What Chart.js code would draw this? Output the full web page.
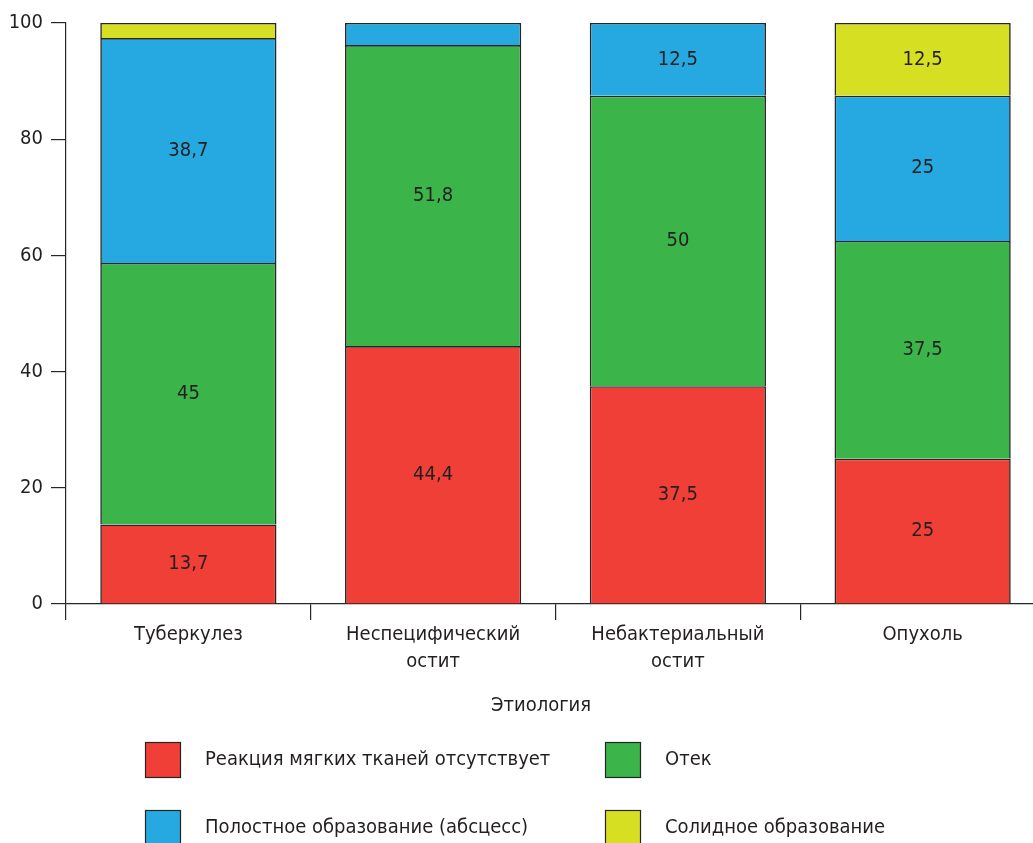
<!DOCTYPE html>
<html>
<head>
<meta charset="utf-8">
<script src="https://cdn.jsdelivr.net/npm/chart.js@4.4.1/dist/chart.umd.min.js"></script>
<style>
  body { margin: 0; background: #fff; overflow: hidden; }
  #wrap { width: 1060px; height: 843px; }
</style>
</head>
<body>
<div id="wrap"><canvas id="canvas" width="1060" height="843"></canvas></div>
<script>
var categories = [['Туберкулез'], ['Неспецифический', 'остит'], ['Небактериальный', 'остит'], ['Опухоль']];
var seriesNames = ['Реакция мягких тканей отсутствует', 'Отек', 'Полостное образование (абсцесс)', 'Солидное образование'];
var noReaction = [13.7, 44.4, 37.5, 25];
var edema = [45, 51.8, 50, 37.5];
var abscess = [38.7, 3.8, 12.5, 25];
var solid = [2.6, 0, 0, 12.5];
var yTicks = [0, 20, 40, 60, 80, 100];
var axisTitle = 'Этиология';

var colors = ['#ef3f37', '#3bb44a', '#25a9e0', '#d7df23'];
var FONT = '"DejaVu Sans Condensed", "Roboto", sans-serif';
var TEXT = '#231f20';
var LINE = '#262626';

function fmt(v) {
  return String(v).replace('.', ',');
}

// values inside the bars
var valueLabels = {
  id: 'valueLabels',
  afterDatasetsDraw: function (chart) {
    var ctx = chart.ctx;
    ctx.save();
    ctx.font = '20px ' + FONT;
    ctx.fillStyle = TEXT;
    ctx.textAlign = 'center';
    ctx.textBaseline = 'middle';
    chart.data.datasets.forEach(function (ds, i) {
      chart.getDatasetMeta(i).data.forEach(function (bar, j) {
        var v = ds.data[j];
        if (v < 10) return;
        ctx.fillText(fmt(v), bar.x, (bar.y + bar.base) / 2);
      });
    });
    ctx.restore();
  }
};

// axis caption and the 2x2 legend below the plot
var bottomBlock = {
  id: 'bottomBlock',
  afterDraw: function (chart) {
    var ctx = chart.ctx;
    ctx.save();
    ctx.font = '20px ' + FONT;
    ctx.fillStyle = TEXT;
    ctx.textBaseline = 'middle';
    ctx.textAlign = 'center';
    ctx.fillText(axisTitle, 541, 706);
    ctx.textAlign = 'left';
    var cols = [145, 605];
    var rows = [742, 810];
    seriesNames.forEach(function (name, i) {
      var x = cols[i % 2];
      var y = rows[Math.floor(i / 2)];
      ctx.fillStyle = colors[i];
      ctx.fillRect(x, y, 36, 36);
      ctx.strokeStyle = LINE;
      ctx.lineWidth = 1.2;
      ctx.strokeRect(x + 0.5, y + 0.5, 35, 35);
      ctx.fillStyle = TEXT;
      ctx.fillText(name, x + 60, y + 18);
    });
    ctx.restore();
  }
};

// bottom edge skipped so stacked segments share a single dividing line
function makeSet(label, data, color) {
  return {
    label: label,
    data: data,
    backgroundColor: color,
    borderColor: LINE,
    borderWidth: 1.6,
    borderSkipped: 'bottom',
    barPercentage: 0.72,
    categoryPercentage: 1
  };
}

var ctx = document.getElementById('canvas');
var chart = new Chart(ctx, {
  type: 'bar',
  data: {
    labels: categories,
    datasets: [
      makeSet(seriesNames[0], noReaction, colors[0]),
      makeSet(seriesNames[1], edema, colors[1]),
      makeSet(seriesNames[2], abscess, colors[2]),
      makeSet(seriesNames[3], solid, colors[3])
    ]
  },
  options: {
    responsive: false,
    animation: false,
    layout: { padding: { top: 23, right: 15, left: 0, bottom: 0 } },
    plugins: { legend: { display: false }, tooltip: { enabled: false } },
    scales: {
      x: {
        stacked: true,
        grid: { offset: true, drawOnChartArea: false, drawTicks: true, tickLength: 16, color: LINE, lineWidth: 1.2 },
        border: { color: LINE, width: 1.2 },
        ticks: { color: TEXT, padding: 1, maxRotation: 0, font: { family: FONT, size: 20, lineHeight: 1.35 } },
        afterFit: function (scale) { scale.height = 239; }
      },
      y: {
        stacked: true,
        min: 0,
        max: 100,
        afterBuildTicks: function (scale) {
          scale.ticks = yTicks.map(function (v) { return { value: v }; });
        },
        grid: { drawOnChartArea: false, drawTicks: true, tickLength: 15, color: LINE, lineWidth: 1.2 },
        border: { color: LINE, width: 1.2 },
        ticks: { color: TEXT, padding: 8, font: { family: FONT, size: 20 } },
        afterFit: function (scale) { scale.width = 66; }
      }
    }
  },
  plugins: [valueLabels, bottomBlock]
});
</script>
</body>
</html>
